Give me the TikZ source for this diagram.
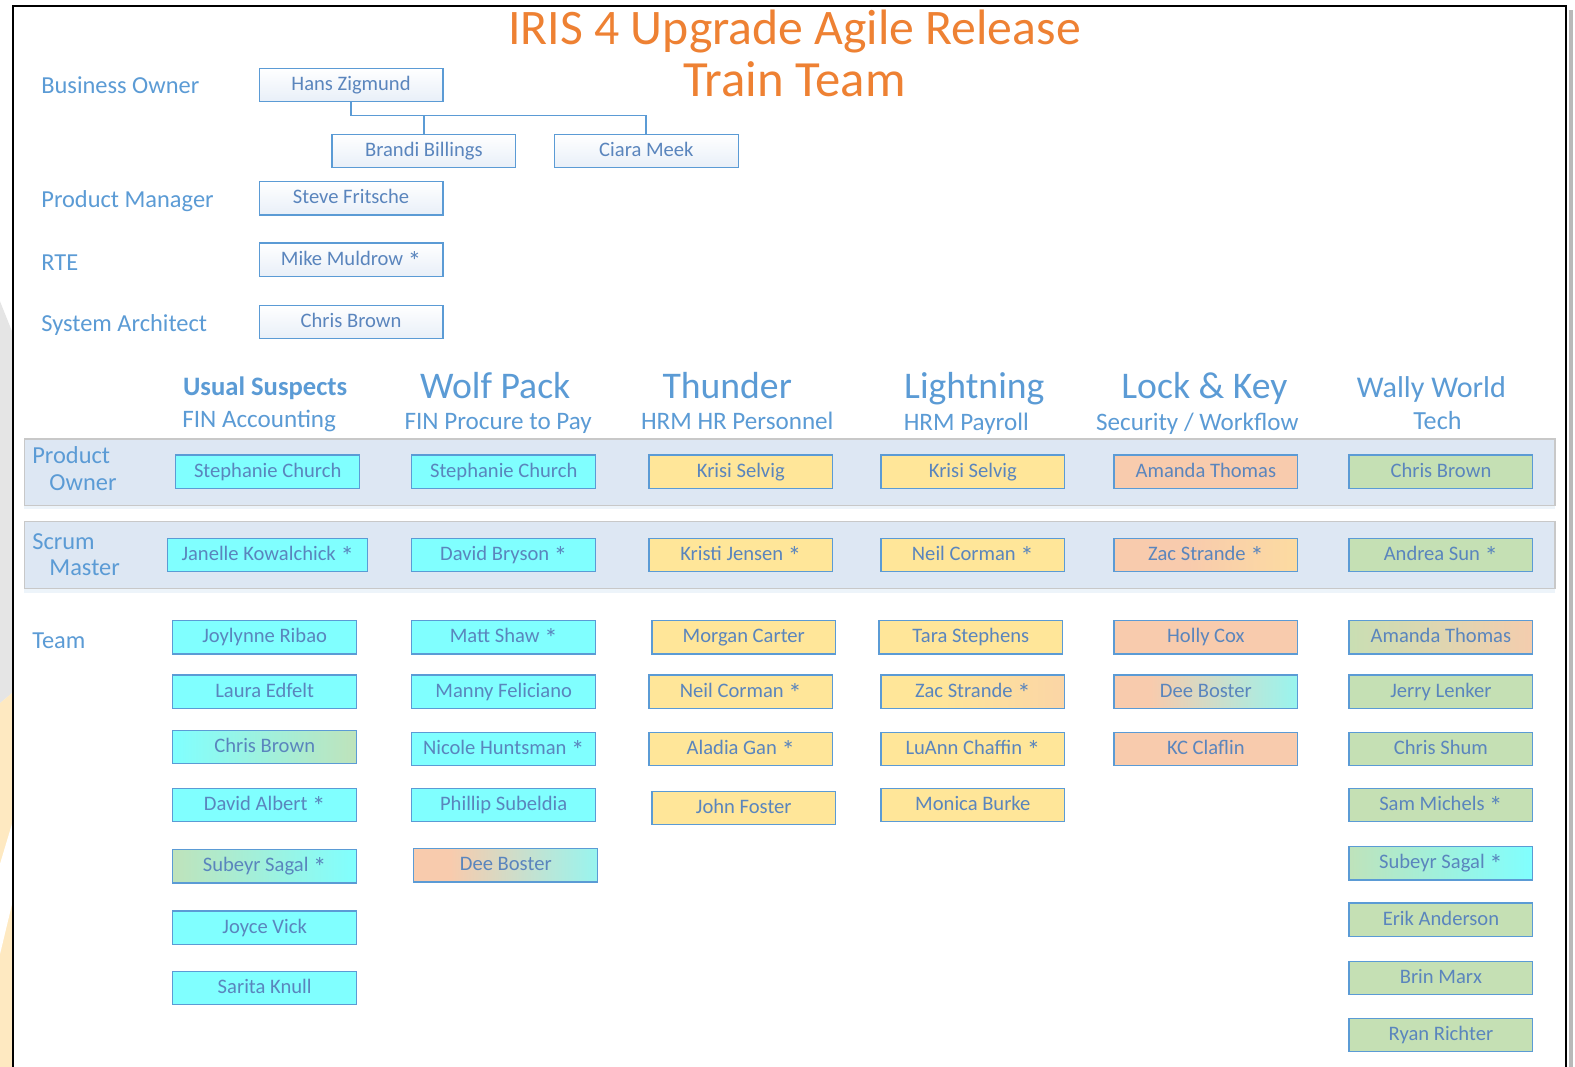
\documentclass[tikz,border=0pt]{standalone}
\usepackage{fontspec}
\setmainfont{Carlito}
\usetikzlibrary{shadows}
\definecolor{cyanA}{HTML}{80FFFF}
\definecolor{yellowA}{HTML}{FFE699}
\definecolor{peachA}{HTML}{F8CBAD}
\definecolor{greenA}{HTML}{C5E0B4}
\definecolor{boxblue}{HTML}{5B9BD5}
\definecolor{txtblue}{HTML}{5A85BD}
\definecolor{lblblue}{HTML}{5B9BD5}
\definecolor{bandfill}{HTML}{DDE7F3}
\definecolor{bandline}{HTML}{C8C8C8}
\definecolor{topfill}{HTML}{E8EFF8}
\definecolor{titleor}{HTML}{EE8133}
\newcommand\mystar{\raisebox{-5pt}{\scalebox{1.3}{*}}}
\pgfdeclarehorizontalshading{cyangreen}{100bp}{color(0bp)=(cyanA); color(25bp)=(cyanA); color(80bp)=(greenA); color(100bp)=(greenA)}
\pgfdeclarehorizontalshading{greencyan}{100bp}{color(0bp)=(greenA); color(20bp)=(greenA); color(75bp)=(cyanA); color(100bp)=(cyanA)}
\pgfdeclarehorizontalshading{peachcyan}{100bp}{color(0bp)=(peachA); color(35bp)=(peachA); color(85bp)=(cyanA); color(100bp)=(cyanA)}
\pgfdeclarehorizontalshading{yellowpeach}{100bp}{color(0bp)=(yellowA); color(40bp)=(yellowA); color(95bp)=(peachA); color(100bp)=(peachA)}
\pgfdeclarehorizontalshading{peachyellow}{100bp}{color(0bp)=(peachA); color(45bp)=(peachA); color(95bp)=(yellowA); color(100bp)=(yellowA)}
\pgfdeclarehorizontalshading{greenpeach}{100bp}{color(0bp)=(greenA); color(20bp)=(greenA); color(80bp)=(peachA); color(100bp)=(peachA)}
\tikzset{
  person/.style={draw=boxblue, line width=1.3pt, minimum width=183pt, minimum height=33pt,
    inner sep=0pt, text height=14pt, text depth=3pt, text=txtblue,
    font=\fontsize{20.5}{24}\selectfont},
  cy/.style={person, fill=cyanA},
  ye/.style={person, fill=yellowA},
  pe/.style={person, fill=peachA},
  gr/.style={person, fill=greenA},
  grad/.style={person, shade, shading=#1},
  topbox/.style={person, top color=white, bottom color=topfill},
  lbl/.style={anchor=base west, inner sep=0pt, text=lblblue, font=\fontsize{24.3}{28}\selectfont},
  hd/.style={anchor=base, inner sep=0pt, text=lblblue, font=\fontsize{37.5}{40}\selectfont},
  sub/.style={anchor=base, inner sep=0pt, text=lblblue, font=\fontsize{25}{28}\selectfont},
  band/.style={draw=bandline, line width=1.2pt, fill=bandfill,
    drop shadow={shadow xshift=0pt, shadow yshift=-4pt, opacity=0.18, fill=boxblue!60}},
  conn/.style={draw=boxblue, line width=1.9pt},
}
\begin{document}
\begin{tikzpicture}[x=1pt,y=-1pt]
\useasboundingbox (0,0) rectangle (1568,1062);
\fill[white] (0,0) rectangle (1568,1062);
% faint background outside the frame
\begin{scope}
\clip (0,0) rectangle (12,1062);
\fill[gray!20] (0,300) -- (12,330) -- (12,690) -- (0,700) -- cycle;
\fill[yellow!30!orange!22] (0,700) -- (12,690) -- (12,1062) -- (0,1062) -- cycle;
\fill[white] (0,860) -- (12,820) -- (12,900) -- (0,950) -- cycle;
\end{scope}
% frame
\draw[gray!55, line width=4pt] (1564,10) -- (1564,1062);
\draw[black, line width=2.5pt] (13,1062) -- (13,6) -- (1559,6) -- (1559,1062);
% title
\node[anchor=base, inner sep=0pt, text=titleor, font=\fontsize{49.5}{55}\selectfont] (t1) at (791,44) {IRIS 4 Upgrade Agile Release};
\node[anchor=base, inner sep=0pt, text=titleor, font=\fontsize{50.5}{55}\selectfont] (t2) at (791,96) {Train Team};
% left labels
\node[lbl] (lbo) at (41,93) {Business Owner};
\node[lbl] (lpm) at (41,207) {Product Manager};
\node[lbl] (lrte) at (41,269) {RTE};
\node[lbl] (lsa) at (41,330) {System Architect};
% top boxes
\node[topbox] (hans) at (349.5,84.5) {Hans Zigmund};
\node[topbox] (brandi) at (422,150.5) {Brandi Billings};
\node[topbox] (ciara) at (643.5,150.5) {Ciara Meek};
\node[topbox] (steve) at (349.5,197.5) {Steve Fritsche};
\node[topbox] (mike) at (349.5,258.5) {Mike Muldrow \mystar};
\node[topbox] (chrisa) at (349.5,320.5) {Chris Brown};
\coordinate (bar) at (0,115);
\draw[conn] (hans.south) -- (hans.south |- bar) -| (ciara.north);
\draw[conn] (brandi.north) -- (brandi.north |- bar);
% column headings
\node[anchor=base, inner sep=0pt, text=lblblue, font=\bfseries\fontsize{26.5}{30}\selectfont] (h1) at (264,394) {Usual Suspects};
\node[sub] (s1) at (258,426) {FIN Accounting};
\node[hd] (h2) at (493,397) {Wolf Pack};
\node[sub] (s2) at (496,428) {FIN Procure to Pay};
\node[hd] (h3) at (724,397) {Thunder};
\node[sub] (s3) at (734,428) {HRM HR Personnel};
\node[hd] (h4) at (970,397) {Lightning};
\node[sub] (s4) at (962,429) {HRM Payroll};
\node[hd] (h5) at (1199,397) {Lock \& Key};
\node[sub] (s5) at (1192,429) {Security / Workflow};
\node[hd, font=\fontsize{30}{34}\selectfont] (h6) at (1425,396) {Wally World};
\node[sub, font=\fontsize{26}{30}\selectfont] (s6) at (1431,428) {Tech};
% bands
\path[band] (24,437) rectangle (1548,503);
\path[band] (24,519) rectangle (1548,586);
\node[lbl] (lpo1) at (32,461) {Product};
\node[lbl] (lpo2) at (49,488) {Owner};
\node[lbl] (lsm1) at (32,547) {Scrum};
\node[lbl] (lsm2) at (49,573) {Master};
\node[lbl] (lteam) at (32,646) {Team};
% column 1
\node[cy] (c1po) at (266.5,469.5) {Stephanie Church};
\node[cy, minimum width=199pt] (c1sm) at (266.5,552.5) {Janelle Kowalchick \mystar};
\node[cy] (c1t1) at (263.5,634.5) {Joylynne Ribao};
\node[cy] (c1t2) at (263.5,688.5) {Laura Edfelt};
\node[grad=cyangreen] (c1t3) at (263.5,743.5) {Chris Brown};
\node[cy] (c1t4) at (263.5,801.5) {David Albert \mystar};
\node[grad=greencyan] (c1t5) at (263.5,862.5) {Subeyr Sagal \mystar};
\node[cy] (c1t6) at (263.5,923.5) {Joyce Vick};
\node[cy] (c1t7) at (263.5,983.5) {Sarita Knull};
% column 2
\node[cy] (c2po) at (501.5,469.5) {Stephanie Church};
\node[cy] (c2sm) at (501.5,552.5) {David Bryson \mystar};
\node[cy] (c2t1) at (501.5,634.5) {Matt Shaw \mystar};
\node[cy] (c2t2) at (501.5,688.5) {Manny Feliciano};
\node[cy] (c2t3) at (501.5,745.5) {Nicole Huntsman \mystar};
\node[cy] (c2t4) at (501.5,801.5) {Phillip Subeldia};
\node[grad=peachcyan] (c2t5) at (503.5,861.5) {Dee Boster};
% column 3
\node[ye] (c3po) at (737.5,469.5) {Krisi Selvig};
\node[ye] (c3sm) at (737.5,552.5) {Kristi Jensen \mystar};
\node[ye] (c3t1) at (740.5,634.5) {Morgan Carter};
\node[ye] (c3t2) at (737.5,688.5) {Neil Corman \mystar};
\node[ye] (c3t3) at (737.5,745.5) {Aladia Gan \mystar};
\node[ye] (c3t4) at (740.5,804.5) {John Foster};
% column 4
\node[ye] (c4po) at (968.5,469.5) {Krisi Selvig};
\node[ye] (c4sm) at (968.5,552.5) {Neil Corman \mystar};
\node[ye] (c4t1) at (966.5,634.5) {Tara Stephens};
\node[grad=yellowpeach] (c4t2) at (968.5,688.5) {Zac Strande \mystar};
\node[ye] (c4t3) at (968.5,745.5) {LuAnn Chaffin \mystar};
\node[ye] (c4t4) at (968.5,801.5) {Monica Burke};
% column 5
\node[pe] (c5po) at (1200.5,469.5) {Amanda Thomas};
\node[grad=peachyellow] (c5sm) at (1200.5,552.5) {Zac Strande \mystar};
\node[pe] (c5t1) at (1200.5,634.5) {Holly Cox};
\node[grad=peachcyan] (c5t2) at (1200.5,688.5) {Dee Boster};
\node[pe] (c5t3) at (1200.5,745.5) {KC Claflin};
% column 6
\node[gr] (c6po) at (1434.5,469.5) {Chris Brown};
\node[gr] (c6sm) at (1434.5,552.5) {Andrea Sun \mystar};
\node[grad=greenpeach] (c6t1) at (1434.5,634.5) {Amanda Thomas};
\node[gr] (c6t2) at (1434.5,688.5) {Jerry Lenker};
\node[gr] (c6t3) at (1434.5,745.5) {Chris Shum};
\node[gr] (c6t4) at (1434.5,801.5) {Sam Michels \mystar};
\node[grad=greencyan] (c6t5) at (1434.5,859.5) {Subeyr Sagal \mystar};
\node[gr] (c6t6) at (1434.5,915.5) {Erik Anderson};
\node[gr] (c6t7) at (1434.5,973.5) {Brin Marx};
\node[gr] (c6t8) at (1434.5,1030.5) {Ryan Richter};
\end{tikzpicture}
\end{document}
